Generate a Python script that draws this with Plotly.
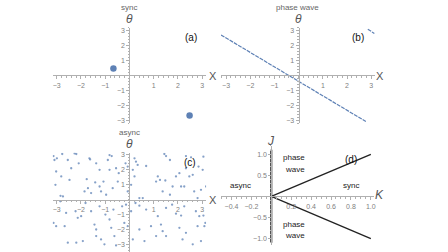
import plotly.graph_objects as go

# ---------------- data ----------------
# (a) sync: two oscillators (x, theta)
sync_x = [-0.66, 2.48]
sync_theta = [0.47, -2.69]

# (b) phase wave: theta decreasing linearly with x (wrapped)
wave_x = [-3.21, 2.78]
wave_theta = [2.72, -3.10]
wave_wrap_x = [2.86, 3.13]
wave_wrap_theta = [3.11, 2.82]

# (c) async: scattered oscillators
async_x = [-3.13, -3.09, -2.99, -2.77, -2.54, -2.26, -2.19, -2.09, -1.65, -1.62, -1.37, -0.89, -0.82, -0.73,
           -0.16, 0.21, 0.27, 0.34, 1.44, 1.51, 1.67, 2.33, 2.54, 3.05,
           -3.02, -2.81, -2.40, -2.47, -1.76, -1.23, -1.07, -0.82, -0.55, -0.44, -0.07, 0.14, 0.21, 0.69,
           1.17, 1.26, 1.48, 1.92, 2.06, 2.33, 2.47, 2.61, 2.85, 3.02,
           -3.05, -2.84, -2.74, -1.85, -1.71, -1.58, -1.41, -1.23, -1.17, -0.96, -0.69, -0.48, -0.07, 0.07,
           0.41, 0.55, 1.10, 1.37, 1.67, 1.78, 2.13, 2.26, 2.67, 2.81, 2.95, 3.16,
           -2.85, -2.61, -2.22, -2.13, -1.99, -1.81, -1.58, -1.23, -0.99, -0.82, -0.66, -0.30, -0.14, 0.07,
           0.25, 0.41, 0.69, 1.17, 1.51, 1.76, 1.92, 2.13, 2.26, 2.74, 2.88, 3.05,
           -3.13, -3.02, -2.67, -2.54, -2.19, -1.92, -1.44, -1.37, -1.37, -1.17, -1.03, -0.75, -0.62, -0.55,
           -0.21, -0.07, 0.14, 0.41, 0.62, 0.89, 1.10, 1.30, 1.37, 1.51, 2.06, 2.19, 2.33, 2.61, 2.81, 2.95,
           3.09, 3.13]
async_theta = [2.91, 2.65, 2.76, 3.05, 2.65, 3.09, 3.05, 2.43, 2.76, 2.69, 2.43, 2.65, 2.98, 2.91,
               2.43, 2.76, 2.54, 2.32, 3.05, 2.91, 2.65, 2.91, 2.83, 2.87,
               1.88, 1.55, 2.10, 1.32, 1.37, 1.99, 1.21, 1.99, 2.10, 1.77, 2.21, 1.99, 1.55, 2.25,
               1.55, 1.32, 1.28, 1.55, 1.77, 2.10, 1.55, 1.66, 2.21, 1.99,
               0.99, 0.26, 0.22, 0.55, 0.77, 0.44, 1.15, 0.88, 0.55, 0.33, 0.77, 1.21, 0.55, 0.99,
               0.11, 0.11, 1.21, 0.55, 0.33, 0.88, 0.88, 0.88, 0.55, 0.11, 0.66, 0.88,
               -0.11, -0.88, -0.77, -1.21, -1.10, -0.22, -0.77, -0.44, -0.99, -1.32, -0.66, -0.44, -0.33, -0.77,
               -0.22, -0.40, -0.66, -1.10, -0.55, -0.33, -0.93, -1.06, -0.44, -0.77, -1.10, -1.06,
               -1.55, -1.77, -1.77, -2.87, -2.87, -2.76, -1.66, -1.99, -2.43, -2.65, -2.98, -1.88, -2.43, -3.05,
               -1.55, -1.77, -2.65, -1.99, -2.76, -1.77, -2.43, -1.66, -2.10, -2.43, -1.88, -2.65, -2.21, -2.98,
               -1.77, -2.76, -1.77, -1.55]

# (d) phase diagram in the (K, J) plane
boundary_K = [0.0, 1.0]
upper_J = [0.0, 1.0]
lower_J = [0.0, -1.0]
axis_K = [0.0, 0.0]
axis_J = [-1.1, 1.11]

xy_ticks = [-3, -2, -1, 1, 2, 3]
K_ticks = [-0.4, -0.2, 0.2, 0.4, 0.6, 0.8, 1.0]
J_ticks = [-1.0, -0.5, 0.5, 1.0]

BLUE = "#5e81b5"
AXIS = "#b0b0b0"
TICKF = dict(size=7, color="#808080", family="Liberation Sans")
W, H = 448, 252

def px(x):
    return x / W

def py(y):
    return 1 - y / H

fig = go.Figure()

fig.add_trace(go.Scatter(x=sync_x, y=sync_theta, mode="markers", xaxis="x", yaxis="y",
                         marker=dict(size=6.5, color=BLUE)))
fig.add_trace(go.Scatter(x=wave_x, y=wave_theta, mode="lines", xaxis="x2", yaxis="y2",
                         line=dict(color=BLUE, width=1.2, dash="4px,1px")))
fig.add_trace(go.Scatter(x=wave_wrap_x, y=wave_wrap_theta, mode="lines", xaxis="x2", yaxis="y2",
                         line=dict(color=BLUE, width=1.2, dash="4px,1px")))
fig.add_trace(go.Scatter(x=async_x, y=async_theta, mode="markers", xaxis="x3", yaxis="y3",
                         marker=dict(size=2.3, color=BLUE, opacity=0.75)))
fig.add_trace(go.Scatter(x=boundary_K, y=upper_J, mode="lines", xaxis="x4", yaxis="y4",
                         line=dict(color="#222222", width=1.3)))
fig.add_trace(go.Scatter(x=boundary_K, y=lower_J, mode="lines", xaxis="x4", yaxis="y4",
                         line=dict(color="#222222", width=1.3)))
fig.add_trace(go.Scatter(x=axis_K, y=axis_J, mode="lines", xaxis="x4", yaxis="y4",
                         line=dict(color="#111111", width=2)))

def xax(domain, rng, pos, tickvals, ticktext, dminor):
    return dict(domain=domain, range=rng, anchor="free", position=pos, showgrid=False, zeroline=False,
                showline=True, linecolor=AXIS, linewidth=1, ticks="outside", ticklen=3, tickcolor=AXIS,
                tickmode="array", tickvals=tickvals, ticktext=ticktext, tickfont=TICKF,
                minor=dict(tickmode="linear", tick0=0, dtick=dminor, ticks="outside", ticklen=1.5,
                           tickcolor=AXIS),
                fixedrange=True)

def fmt_int(v):
    return ("\u2212" if v < 0 else "") + str(abs(v))

def fmt_1(v):
    return ("\u2212" if v < 0 else "") + "%.1f" % abs(v)

int_text = [fmt_int(v) for v in xy_ticks]

xa_dom = [px(53), px(207)]
xb_dom = [px(222), px(377)]
ytop_dom = [py(122), py(26)]
ybot_dom = [py(252), py(152)]
xd_dom = [px(222), px(375.5)]
yd_dom = [py(245), py(145)]

fig.update_layout(
    width=W, height=H, margin=dict(l=0, r=0, t=0, b=0),
    paper_bgcolor="white", plot_bgcolor="rgba(0,0,0,0)", showlegend=False,
    xaxis=xax(xa_dom, [-3.16, 3.16], py(74), xy_ticks, int_text, 0.2),
    yaxis=xax(ytop_dom, [-3.2, 3.2], px(130), xy_ticks, int_text, 0.2),
    xaxis2=xax(xb_dom, [-3.21, 3.17], py(74), xy_ticks, int_text, 0.2),
    yaxis2=xax(ytop_dom, [-3.2, 3.2], px(300), xy_ticks, int_text, 0.2),
    xaxis3=xax(xa_dom, [-3.16, 3.16], py(199.3), xy_ticks, int_text, 0.2),
    yaxis3=xax(ybot_dom, [-3.49, 3.13], px(130), xy_ticks, int_text, 0.2),
    xaxis4=xax(xd_dom, [-0.505, 1.03], py(196), K_ticks, [fmt_1(v) for v in K_ticks], 0.05),
    yaxis4=xax(yd_dom, [-1.153, 1.2], px(272.5), J_ticks, [fmt_1(v) for v in J_ticks], 0.1),
)

ann = []
def label(x, y, text, size, color="#666666", italic=False, ref="paper", xr=None, yr=None):
    t = "<i>%s</i>" % text if italic else text
    d = dict(text=t, showarrow=False, font=dict(size=size, color=color, family="Liberation Sans"),
             xanchor="center", yanchor="middle")
    if ref == "paper":
        d.update(x=px(x), y=py(y), xref="paper", yref="paper")
    else:
        d.update(x=x, y=y, xref=xr, yref=yr)
    ann.append(d)

# titles
label(130, 6, "sync", 8)
label(299, 6, "phase wave", 8)
label(130, 131.3, "async", 8)
# theta labels
for xx, yy in [(130, 17), (300, 17), (130, 143.3)]:
    label(xx, yy, "θ", 12, "#555555", italic=True)
# X labels
for xx, yy in [(213.5, 75), (382, 75), (213.5, 200)]:
    label(xx, yy, "X", 11, "#555555")
# panel letters
label(191.7, 36, "(a)", 10, "#111111")
label(359.7, 36, "(b)", 10, "#111111")
label(191, 162, "(c)", 10, "#111111")
# (d) axis labels
label(272.5, 140, "J", 12, "#555555", italic=True)
label(381, 195, "K", 12, "#555555", italic=True)
# (d) region labels in data coordinates
for K, J, t in [(0.23, 0.92, "phase"), (0.24, 0.65, "wave"), (-0.31, 0.25, "async"), (0.80, 0.25, "sync"),
                (0.23, -0.67, "phase"), (0.24, -0.93, "wave")]:
    label(K, J, t, 8, "#222222", ref="data", xr="x4", yr="y4")
label(0.80, 0.88, "(d)", 10, "#111111", ref="data", xr="x4", yr="y4")

fig.update_layout(annotations=ann)
fig.write_html("out.html", config={"displayModeBar": False, "staticPlot": True},
               post_script="document.body.style.margin='0';")
